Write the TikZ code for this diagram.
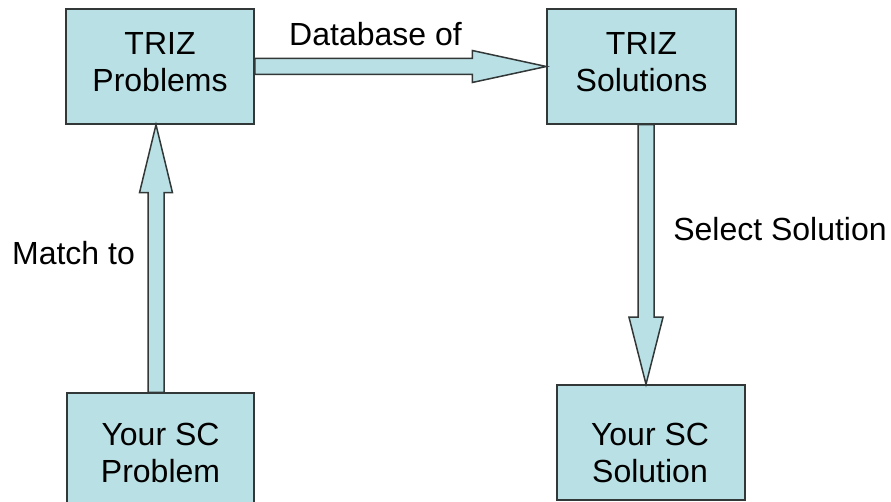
\documentclass[tikz,border=0pt]{standalone}
\usepackage{fontspec}
\setmainfont{Liberation Sans}
\usetikzlibrary{calc}
\definecolor{boxfill}{RGB}{185,224,228}
\definecolor{edge}{RGB}{50,55,55}
\tikzset{
  box/.style={draw=edge, fill=boxfill, line width=1.5pt, rectangle, inner sep=0pt},
  txt/.style={font=\fontsize{32}{37}\selectfont, align=center, inner sep=0pt, text=black},
  blockarrow/.style={draw=edge, fill=boxfill, line width=1.5pt, line join=miter}
}
\begin{document}
\begin{tikzpicture}[x=1pt,y=-1pt]
\useasboundingbox (0,0) rectangle (891,502);
\clip (0,0) rectangle (891,502);
% boxes
\node[box, minimum width=188pt, minimum height=115pt] (p) at (160,66.5) {};
\node[box, minimum width=189pt, minimum height=115pt] (s) at (641.5,66.5) {};
\node[box, minimum width=187pt, minimum height=115pt] (yp) at (160.5,450.5) {};
\node[box, minimum width=188pt, minimum height=115pt] (ys) at (651,442.5) {};
% box texts
\node[txt] (tp) at (160,62.5) {TRIZ\\Problems};
\node[txt] (ts) at (641.5,62.5) {TRIZ\\Solutions};
\node[txt] (typ) at (160.5,452.5) {Your SC\\Problem};
\node[txt] (tys) at (650,452.5) {Your SC\\Solution};
% connector: Database of (right)
\draw[blockarrow] ($(p.east)+(0,-8)$) -- ($(s.west)+(-74,-8)$) -- ($(s.west)+(-74,-16)$)
  -- (s.west) -- ($(s.west)+(-74,16)$) -- ($(s.west)+(-74,8)$) -- ($(p.east)+(0,8)$) -- cycle;
% connector: Select Solution (down)
\coordinate (d1) at ($(s.south)+(4.5,0)$);
\coordinate (d2) at ($(ys.north)+(-5,0)$);
\draw[blockarrow] ($(d1)+(-8,0)$) -- ($(d2)+(-8,-67)$) -- ($(d2)+(-17,-67)$) -- (d2)
  -- ($(d2)+(17,-67)$) -- ($(d2)+(8,-67)$) -- ($(d1)+(8,0)$) -- cycle;
% connector: Match to (up)
\coordinate (u1) at ($(yp.north)+(-4.5,0)$);
\coordinate (u2) at ($(p.south)+(-4,0)$);
\draw[blockarrow] ($(u1)+(-8,0)$) -- ($(u2)+(-8,68)$) -- ($(u2)+(-16.5,68)$) -- (u2)
  -- ($(u2)+(16.5,68)$) -- ($(u2)+(8,68)$) -- ($(u1)+(8,0)$) -- cycle;
% labels
\node[txt, anchor=base] (l1) at (375.5,46) {Database of};
\node[txt, anchor=base] (l2) at (780,241) {Select Solution};
\node[txt, anchor=base] (l3) at (73.5,265) {Match to};
\end{tikzpicture}
\end{document}
